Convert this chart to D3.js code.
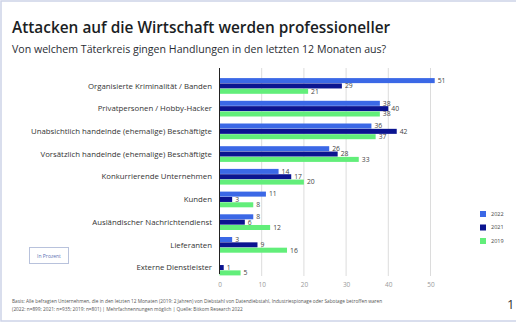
<!DOCTYPE html>
<html>
<head>
<meta charset="utf-8">
<script src="https://cdn.jsdelivr.net/npm/d3@7"></script>
<style>
  body { margin: 0; background: #fff; }
  svg { display: block; font-family: "Open Sans", sans-serif; }
</style>
</head>
<body>
<div id="chart"></div>
<script>
// data
var categories = [
  "Organisierte Kriminalität / Banden",
  "Privatpersonen / Hobby-Hacker",
  "Unabsichtlich handelnde (ehemalige) Beschäftigte",
  "Vorsätzlich handelnde (ehemalige) Beschäftigte",
  "Konkurrierende Unternehmen",
  "Kunden",
  "Ausländischer Nachrichtendienst",
  "Lieferanten",
  "Externe Dienstleister"
];
var years = ["2022", "2021", "2019"];
var values2022 = [51, 38, 36, 26, 14, 11, 8, 3, null];
var values2021 = [29, 40, 42, 28, 17, 3, 6, 9, 1];
var values2019 = [21, 38, 37, 33, 20, 8, 12, 16, 5];
var xTicks = [0, 10, 20, 30, 40, 50];

var seriesByYear = {"2022": values2022, "2021": values2021, "2019": values2019};
var colors = {"2022": "#3b68e6", "2021": "#0b1490", "2019": "#62ee7a"};

var W = 516, H = 323;
var svg = d3.select("#chart").append("svg")
    .attr("width", W).attr("height", H);

// frame
svg.append("rect").attr("x", 1).attr("y", 1).attr("width", W + 5).attr("height", 320)
  .attr("fill", "none").attr("stroke", "#cdd3e8").attr("stroke-width", 1.5);

svg.append("text").attr("x", 12).attr("y", 33)
  .text("Attacken auf die Wirtschaft werden professioneller")
  .style("font-size", "15.4px").style("font-weight", 600).style("fill", "#1b1e24");
svg.append("text").attr("x", 12).attr("y", 53)
  .text("Von welchem Täterkreis gingen Handlungen in den letzten 12 Monaten aus?")
  .style("font-size", "10.6px").style("fill", "#2a2d33");

var x = d3.scaleLinear().domain([0, 50]).range([219.5, 430.5]);
var y = d3.scaleBand().domain(categories).range([74.6, 278.9])
  .paddingInner(0.28).paddingOuter(0.14);
var ySub = d3.scaleBand().domain(years).range([0, y.bandwidth()]).padding(0.06);

// grid
svg.append("g").selectAll("line").data(xTicks.slice(1)).enter().append("line")
  .attr("x1", function(d) { return x(d); }).attr("x2", function(d) { return x(d); })
  .attr("y1", 68).attr("y2", 276)
  .attr("stroke", "#dcdcdc").attr("stroke-width", 1);

// x axis
var xAxis = svg.append("g").attr("transform", "translate(0,276)")
  .call(d3.axisBottom(x).tickValues(xTicks).tickSize(0).tickPadding(6));
xAxis.select(".domain").remove();
xAxis.selectAll("text").style("font-size", "6.5px").style("fill", "#9a9a9a")
  .style("font-family", "Open Sans, sans-serif");

// bars
var rows = categories.map(function(c, i) {
  return {cat: c, vals: years.map(function(yr) { return {year: yr, value: seriesByYear[yr][i]}; })};
});
var groups = svg.append("g").selectAll("g").data(rows).enter().append("g")
  .attr("transform", function(d) { return "translate(0," + y(d.cat) + ")"; });

groups.selectAll("rect").data(function(d) { return d.vals.filter(function(v) { return v.value != null; }); })
  .enter().append("rect")
  .attr("x", x(0))
  .attr("y", function(d) { return ySub(d.year); })
  .attr("width", function(d) { return x(d.value) - x(0); })
  .attr("height", ySub.bandwidth())
  .attr("fill", function(d) { return colors[d.year]; });

groups.selectAll("text.val").data(function(d) { return d.vals.filter(function(v) { return v.value != null; }); })
  .enter().append("text").attr("class", "val")
  .attr("x", function(d) { return x(d.value) + 3; })
  .attr("y", function(d) { return ySub(d.year) + ySub.bandwidth() / 2; })
  .attr("dy", "0.35em")
  .text(function(d) { return d.value; })
  .style("font-size", "6.8px").style("fill", "#444");

// axis line
svg.append("line").attr("x1", x(0)).attr("x2", x(0)).attr("y1", 68).attr("y2", 274)
  .attr("stroke", "#222").attr("stroke-width", 1);

// category labels
svg.append("g").selectAll("text").data(categories).enter().append("text")
  .attr("x", 212)
  .attr("y", function(d) { return y(d) + y.bandwidth() / 2; })
  .attr("dy", "0.35em")
  .attr("text-anchor", "end")
  .text(function(d) { return d; })
  .style("font-size", "7.8px").style("fill", "#333");

// legend
var legend = svg.append("g").selectAll("g").data(years).enter().append("g")
  .attr("transform", function(d, i) { return "translate(480," + (211 + i * 13.5) + ")"; });
legend.append("rect").attr("width", 6).attr("height", 6)
  .attr("fill", function(d) { return colors[d]; });
legend.append("text").attr("x", 11).attr("y", 3).attr("dy", "0.35em")
  .text(function(d) { return d; })
  .style("font-size", "5.5px").style("fill", "#444");

// "In Prozent" box
svg.append("rect").attr("x", 29.5).attr("y", 247.5).attr("width", 39).attr("height", 16)
  .attr("fill", "#fff").attr("stroke", "#b8c2dc").attr("stroke-width", 1);
svg.append("text").attr("x", 49).attr("y", 256).attr("dy", "0.35em")
  .attr("text-anchor", "middle").text("In Prozent")
  .style("font-size", "5px").style("fill", "#5b72b3");

// footnote
svg.append("text").attr("x", 12).attr("y", 303)
  .text("Basis: Alle befragten Unternehmen, die in den letzten 12 Monaten (2019: 2 Jahren) von Diebstahl von Datendiebstahl, Industriespionage oder Sabotage betroffen waren")
  .style("font-size", "4.75px").style("fill", "#555");
svg.append("text").attr("x", 12).attr("y", 310.5)
  .text("(2022: n=899; 2021: n=935; 2019: n=801) | Mehrfachnennungen möglich | Quelle: Bitkom Research 2022")
  .style("font-size", "4.75px").style("fill", "#555");

// page marker at right edge
svg.append("text").attr("x", 507).attr("y", 309)
  .text("1").style("font-size", "13px").style("fill", "#333");
</script>
</body>
</html>
